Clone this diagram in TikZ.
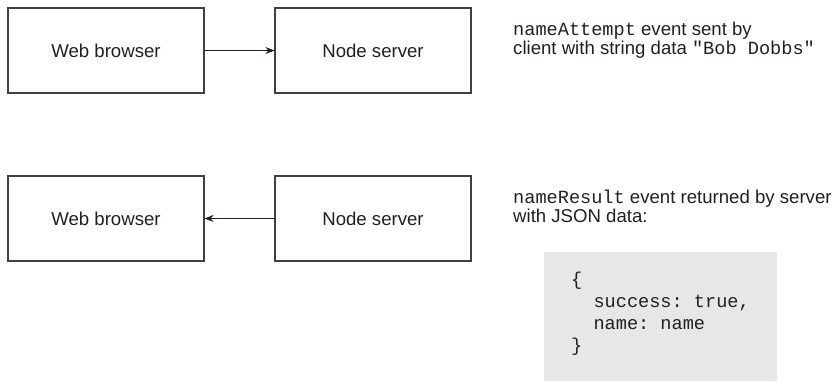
\documentclass[tikz,border=0pt]{standalone}
\usepackage{fontspec}
\setmainfont{Liberation Sans}
\setmonofont{Liberation Mono}
\usetikzlibrary{arrows.meta}
\definecolor{ink}{HTML}{231F20}
\definecolor{codebg}{HTML}{E6E7E8}
\definecolor{boxline}{HTML}{404040}
\tikzset{
  box/.style={draw=boxline, line width=1.1bp, minimum width=196bp, minimum height=85bp,
    inner sep=0pt, text=ink, font=\fontsize{18.6bp}{20bp}\selectfont},
  conn/.style={draw=ink, line width=0.9bp, -{Stealth[length=9bp,width=7bp]}},
  note/.style={anchor=base west, align=left, inner sep=0pt, text=ink,
    font=\fontsize{18.6bp}{19bp}\selectfont},
  codetext/.style={anchor=base west, align=left, inner sep=0pt, text=ink,
    font=\fontsize{18.6bp}{22bp}\selectfont\ttfamily},
}
\begin{document}
\begin{tikzpicture}[x=1bp,y=-1bp]
\useasboundingbox (0,0) rectangle (832,381);
% top row
\node[box] (wb1) at (106,50.5) {Web browser};
\node[box] (ns1) at (373,50.5) {Node server};
\draw[conn] (wb1.east) -- (ns1.west);
\node[note] (t1) at (513,54) {\texttt{nameAttempt} event sent by\\client with string data \texttt{"Bob Dobbs"}};
% bottom row
\node[box] (wb2) at (106,218.5) {Web browser};
\node[box] (ns2) at (373,218.5) {Node server};
\draw[conn] (ns2.west) -- (wb2.east);
\node[note] (t2) at (513,222) {\texttt{nameResult} event returned by server\\with JSON data:};
% code box
\fill[codebg] (544,252) rectangle (777,381);
\node[codetext] (code) at (571,351) {\{\\\ \ success: true,\\\ \ name: name\\\}};
\end{tikzpicture}
\end{document}
